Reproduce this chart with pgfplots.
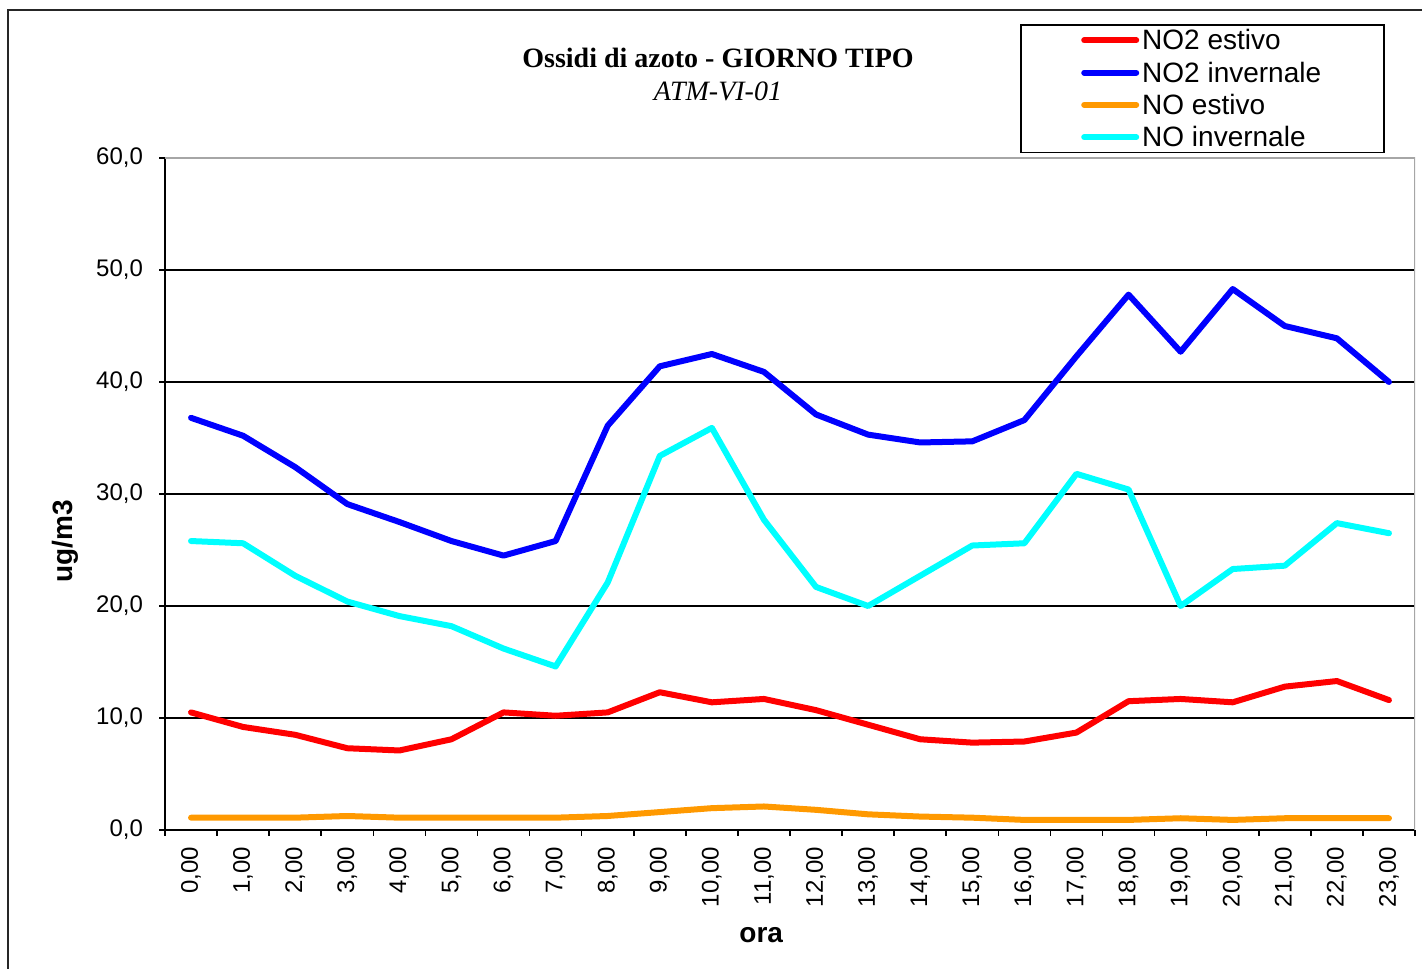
\documentclass[border=0pt]{standalone}
\usepackage{pgfplots}
\pgfplotsset{compat=1.18}
\usepackage{fontspec}
\setmainfont{Liberation Sans}
\newfontfamily\timesfont{Liberation Serif}
\definecolor{cNOtwoE}{RGB}{255,0,0}
\definecolor{cNOtwoI}{RGB}{0,0,255}
\definecolor{cNOE}{RGB}{255,153,0}
\definecolor{cNOI}{RGB}{0,255,255}
\begin{document}
\begin{tikzpicture}
\useasboundingbox (0,0) rectangle (711pt,484pt);
\draw[line width=1pt, black!85] (4pt,-2pt) -- (4pt,479pt) -- (713pt,479pt);
\node[font=\timesfont\bfseries\fontsize{14}{16}\selectfont] at (359pt,455pt) {Ossidi di azoto - GIORNO TIPO};
\node[font=\timesfont\itshape\fontsize{14}{16}\selectfont] at (359pt,438.5pt) {ATM-VI-01};
\begin{axis}[
  at={(82.5pt,69pt)}, anchor=south west,
  scale only axis, width=625pt, height=336pt,
  xmin=-0.5, xmax=23.5, ymin=0, ymax=60,
  xtick={0,...,23},
  xticklabels={{0,00},{1,00},{2,00},{3,00},{4,00},{5,00},{6,00},{7,00},{8,00},{9,00},{10,00},{11,00},{12,00},{13,00},{14,00},{15,00},{16,00},{17,00},{18,00},{19,00},{20,00},{21,00},{22,00},{23,00}},
  minor xtick={-0.5,0.5,...,23.5},
  ytick={0,10,...,60},
  yticklabels={{0,0},{10,0},{20,0},{30,0},{40,0},{50,0},{60,0}},
  major x tick style={draw=none},
  tick align=outside,
  major tick length=3pt, minor tick length=3pt,
  tick style={black, line width=0.8pt},
  xticklabel style={rotate=90, anchor=east, font=\fontsize{12}{14}\selectfont, yshift=0pt, xshift=-2pt},
  yticklabel style={font=\fontsize{12}{14}\selectfont, xshift=-4.5pt},
  axis x line*=bottom, axis y line*=left,
  axis line style={black, line width=0.8pt, -},
  ymajorgrids, grid style={black, line width=0.8pt},
  xlabel={ora}, ylabel={ug/m3},
  xlabel style={font=\bfseries\fontsize{14}{16}\selectfont, at={(axis description cs:0.477,-0.156)}, anchor=center},
  ylabel style={font=\bfseries\fontsize{14}{16}\selectfont, at={(axis description cs:-0.08,0.43)}, anchor=center, rotate=0},
  legend style={at={(0.976,1.199)}, anchor=north east, draw=black, line width=0.8pt,
    font=\fontsize{14}{16}\selectfont, inner xsep=30pt, inner ysep=0.8pt, row sep=2.5pt,
    nodes={inner sep=1.5pt, text depth=0.5pt}},
  legend cell align=left,
  legend image code/.code={\draw[#1, line width=3pt, line cap=round] (0pt,0pt) -- (26pt,0pt);},
  every axis plot/.append style={line width=3pt, line join=round, line cap=round, mark=none},
]
\draw[gray!70, line width=0.8pt] (rel axis cs:0,1) -- (rel axis cs:1,1) -- (rel axis cs:1,0);
\addplot[cNOtwoE] coordinates {(0,10.5)(1,9.2)(2,8.5)(3,7.3)(4,7.1)(5,8.1)(6,10.5)(7,10.2)(8,10.5)(9,12.3)(10,11.4)(11,11.7)(12,10.7)(13,9.4)(14,8.1)(15,7.8)(16,7.9)(17,8.7)(18,11.5)(19,11.7)(20,11.4)(21,12.8)(22,13.3)(23,11.6)};
\addlegendentry{NO2 estivo}
\addplot[cNOtwoI] coordinates {(0,36.8)(1,35.2)(2,32.4)(3,29.1)(4,27.5)(5,25.8)(6,24.5)(7,25.8)(8,36.1)(9,41.4)(10,42.5)(11,40.9)(12,37.1)(13,35.3)(14,34.6)(15,34.7)(16,36.6)(17,42.3)(18,47.8)(19,42.7)(20,48.3)(21,45.0)(22,43.9)(23,40.0)};
\addlegendentry{NO2 invernale}
\addplot[cNOE] coordinates {(0,1.1)(1,1.1)(2,1.1)(3,1.25)(4,1.1)(5,1.1)(6,1.1)(7,1.1)(8,1.25)(9,1.6)(10,1.95)(11,2.1)(12,1.8)(13,1.4)(14,1.2)(15,1.1)(16,0.9)(17,0.9)(18,0.9)(19,1.05)(20,0.9)(21,1.05)(22,1.05)(23,1.05)};
\addlegendentry{NO estivo}
\addplot[cNOI] coordinates {(0,25.8)(1,25.6)(2,22.7)(3,20.4)(4,19.1)(5,18.2)(6,16.2)(7,14.6)(8,22.1)(9,33.4)(10,35.9)(11,27.7)(12,21.7)(13,20.0)(14,22.7)(15,25.4)(16,25.6)(17,31.8)(18,30.4)(19,20.0)(20,23.3)(21,23.6)(22,27.4)(23,26.5)};
\addlegendentry{NO invernale}
\end{axis}
\end{tikzpicture}
\end{document}
